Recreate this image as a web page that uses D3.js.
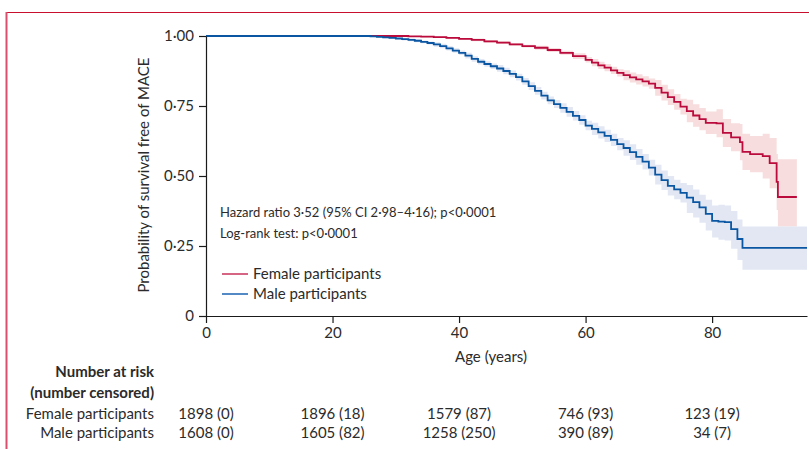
<!DOCTYPE html>
<html>
<head>
<meta charset="utf-8">
<title>Survival free of MACE by sex</title>
<style>
    body { margin: 0; background: #fff; }
    svg text { font-family: Lato, "Open Sans", sans-serif; fill: #2b2b2b; font-size: 15px; }
    .axis path, .axis line { stroke: #1a1a1a; stroke-width: 1.2px; }
    .axis text { font-size: 15px; fill: #2b2b2b; }
    .note { font-size: 13px; }
</style>
<script src="https://d3js.org/d3.v7.min.js"></script>
</head>
<body>
<svg id="chart" width="809" height="449"></svg>
<script>
// survival curves (Kaplan-Meier) and 95% CI
var maleAge   = [0, 25, 26, 27, 28, 29, 30, 31, 32, 33, 34, 35, 36, 37, 38, 39, 40, 41, 42, 43, 44, 45, 46, 47, 48, 49, 50,
                 51, 52, 53, 54, 55, 56, 57, 58, 59, 60, 61, 62, 63, 64, 65, 66, 67, 68, 69, 70, 71, 72, 73, 74, 75, 76, 77,
                 78, 79, 80, 81, 82, 83, 84, 84.8, 95];
var maleSurv  = [1, 1, 0.999, 0.997, 0.995, 0.993, 0.991, 0.989, 0.986, 0.983, 0.979, 0.975, 0.970, 0.964, 0.956, 0.948,
                 0.940, 0.930, 0.918, 0.908, 0.900, 0.892, 0.884, 0.875, 0.865, 0.853, 0.838, 0.821, 0.804, 0.787, 0.770,
                 0.757, 0.743, 0.729, 0.715, 0.700, 0.680, 0.668, 0.656, 0.643, 0.629, 0.614, 0.600, 0.585, 0.568, 0.551,
                 0.530, 0.505, 0.485, 0.465, 0.452, 0.440, 0.423, 0.407, 0.388, 0.365, 0.340, 0.337, 0.335, 0.310, 0.275,
                 0.243, 0.243];
var maleLower = [1, 0.997, 0.996, 0.994, 0.992, 0.990, 0.988, 0.984, 0.981, 0.978, 0.974, 0.970, 0.962, 0.956, 0.948, 0.940,
                 0.932, 0.920, 0.908, 0.898, 0.890, 0.882, 0.872, 0.863, 0.853, 0.841, 0.826, 0.807, 0.790, 0.773, 0.756,
                 0.743, 0.726, 0.712, 0.698, 0.683, 0.663, 0.646, 0.634, 0.621, 0.607, 0.592, 0.572, 0.557, 0.540, 0.523,
                 0.502, 0.470, 0.450, 0.430, 0.417, 0.405, 0.368, 0.352, 0.333, 0.305, 0.280, 0.272, 0.270, 0.240, 0.200,
                 0.165, 0.165];
var maleUpper = [1, 1, 1, 1, 0.998, 0.996, 0.994, 0.994, 0.991, 0.988, 0.984, 0.980, 0.978, 0.972, 0.964, 0.956,
                 0.948, 0.940, 0.928, 0.918, 0.910, 0.902, 0.896, 0.887, 0.877, 0.865, 0.850, 0.835, 0.818, 0.801, 0.784,
                 0.771, 0.760, 0.746, 0.732, 0.717, 0.697, 0.690, 0.678, 0.665, 0.651, 0.636, 0.628, 0.613, 0.596, 0.579,
                 0.558, 0.540, 0.520, 0.500, 0.487, 0.475, 0.468, 0.452, 0.433, 0.415, 0.395, 0.397, 0.395, 0.375, 0.345,
                 0.320, 0.320];

var femaleAge   = [0, 30, 32, 34, 36, 38, 40, 42, 44, 46, 48, 50, 52, 54, 56, 58, 60, 61, 62, 63, 64, 65, 66, 67, 68, 69,
                   70, 71, 72, 73, 74, 75, 76, 77, 78, 79, 80.7, 81.7, 83, 84.4, 84.8, 86, 88, 89.1, 90.2, 90.4, 93.4];
var femaleSurv  = [1, 1, 0.999, 0.998, 0.996, 0.993, 0.990, 0.986, 0.981, 0.976, 0.970, 0.964, 0.958, 0.950, 0.940, 0.928,
                   0.915, 0.905, 0.895, 0.887, 0.877, 0.868, 0.860, 0.852, 0.845, 0.838, 0.830, 0.815, 0.798, 0.782, 0.765,
                   0.748, 0.732, 0.716, 0.703, 0.690, 0.688, 0.654, 0.638, 0.621, 0.586, 0.578, 0.571, 0.546, 0.479, 0.425,
                   0.425];
var femaleLower = [1, 0.997, 0.996, 0.995, 0.993, 0.990, 0.987, 0.981, 0.976, 0.971, 0.965, 0.959, 0.951, 0.943, 0.933,
                   0.918, 0.905, 0.892, 0.882, 0.874, 0.864, 0.855, 0.842, 0.834, 0.827, 0.820, 0.812, 0.787, 0.770, 0.754,
                   0.737, 0.720, 0.692, 0.676, 0.663, 0.650, 0.638, 0.604, 0.588, 0.556, 0.521, 0.513, 0.491, 0.456, 0.379,
                   0.320, 0.320];
var femaleUpper = [1, 1, 1, 1, 0.999, 0.996, 0.993, 0.991, 0.986, 0.981, 0.975, 0.969, 0.965, 0.957, 0.947, 0.938, 0.925,
                   0.918, 0.908, 0.900, 0.890, 0.881, 0.878, 0.870, 0.863, 0.856, 0.848, 0.843, 0.826, 0.810, 0.793, 0.776,
                   0.772, 0.756, 0.743, 0.730, 0.738, 0.704, 0.688, 0.686, 0.651, 0.643, 0.651, 0.636, 0.579, 0.560, 0.560];

var xTicks = [0, 20, 40, 60, 80];
var yTicks = [0, 0.25, 0.5, 0.75, 1];

var groups = ["Female participants", "Male participants"];
var femaleRisk = ["1898 (0)", "1896 (18)", "1579 (87)", "746 (93)", "123 (19)"];
var maleRisk   = ["1608 (0)", "1605 (82)", "1258 (250)", "390 (89)", "34 (7)"];

var svg = d3.select("#chart");

var x = d3.scaleLinear().domain([0, 95]).range([206, 807]);
var y = d3.scaleLinear().domain([0, 1]).range([316, 36]);

var fmt = function(d) { return d === 0 ? "0" : d3.format(".2f")(d).replace(".", "\u00b7"); };

// frame
svg.append("line").attr("x1", 6).attr("x2", 809).attr("y1", 12.5).attr("y2", 12.5)
    .attr("stroke", "#c8102e").attr("stroke-width", 1.2);
svg.append("line").attr("x1", 6.5).attr("x2", 6.5).attr("y1", 12).attr("y2", 449)
    .attr("stroke", "#d9506e").attr("stroke-width", 2);

function zip(a, s, lo, hi) {
    return a.map(function(v, i) { return { age: v, s: s[i], lo: lo[i], hi: hi[i] }; });
}
var female = zip(femaleAge, femaleSurv, femaleLower, femaleUpper);
var male = zip(maleAge, maleSurv, maleLower, maleUpper);

var area = d3.area().curve(d3.curveStepAfter)
    .x(function(d) { return x(d.age); })
    .y0(function(d) { return y(d.lo); })
    .y1(function(d) { return y(d.hi); });

var line = d3.line().curve(d3.curveStepAfter)
    .x(function(d) { return x(d.age); })
    .y(function(d) { return y(d.s); });

svg.append("path").datum(female).attr("d", area).attr("fill", "#f7dddd");
svg.append("path").datum(male).attr("d", area).attr("fill", "#dfe5f2").attr("fill-opacity", 0.92);

svg.append("path").datum(female)
    .attr("d", line).attr("fill", "none").attr("stroke", "#bb0a3c").attr("stroke-width", 1.8);
svg.append("path").datum(male)
    .attr("d", line).attr("fill", "none").attr("stroke", "#0a56a3").attr("stroke-width", 1.8);

// axes
svg.append("g").attr("class", "axis").attr("transform", "translate(206,0)")
    .call(d3.axisLeft(y).tickValues(yTicks).tickFormat(fmt).tickSize(7).tickSizeOuter(0).tickPadding(5));
svg.append("g").attr("class", "axis").attr("transform", "translate(0,316)")
    .call(d3.axisBottom(x).tickValues(xTicks).tickSize(7).tickSizeOuter(0).tickPadding(4));

svg.append("text").attr("transform", "translate(149,175) rotate(-90)")
    .attr("text-anchor", "middle")
    .text("Probability of survival free of MACE");
svg.append("text").attr("x", 491).attr("y", 362).attr("text-anchor", "middle")
    .text("Age (years)");

// annotation
svg.append("text").attr("class", "note").attr("x", 220).attr("y", 217)
    .text("Hazard ratio 3\u00b752 (95% CI 2\u00b798\u20134\u00b716); p<0\u00b70001");
svg.append("text").attr("class", "note").attr("x", 220).attr("y", 238)
    .text("Log-rank test: p<0\u00b70001");

// legend
var legColors = ["#c8325a", "#1a62b0"];
groups.forEach(function(g, i) {
    var ly = 274 + i * 20;
    svg.append("line").attr("x1", 222).attr("x2", 248).attr("y1", ly).attr("y2", ly)
        .attr("stroke", legColors[i]).attr("stroke-width", 1.5);
    svg.append("text").attr("x", 253).attr("y", ly + 5).text(g);
});

// number at risk table
svg.append("text").attr("x", 154).attr("y", 377).attr("text-anchor", "end")
    .style("font-weight", "bold").text("Number at risk");
svg.append("text").attr("x", 154).attr("y", 398).attr("text-anchor", "end")
    .style("font-weight", "bold").text("(number censored)");

[femaleRisk, maleRisk].forEach(function(row, i) {
    var ry = 419 + i * 19;
    svg.append("text").attr("x", 154).attr("y", ry).attr("text-anchor", "end").text(groups[i]);
    svg.selectAll(null).data(row).enter().append("text")
        .attr("x", function(d, j) { return x(xTicks[j]); })
        .attr("y", ry).attr("text-anchor", "middle")
        .text(function(d) { return d; });
});
</script>
</body>
</html>
